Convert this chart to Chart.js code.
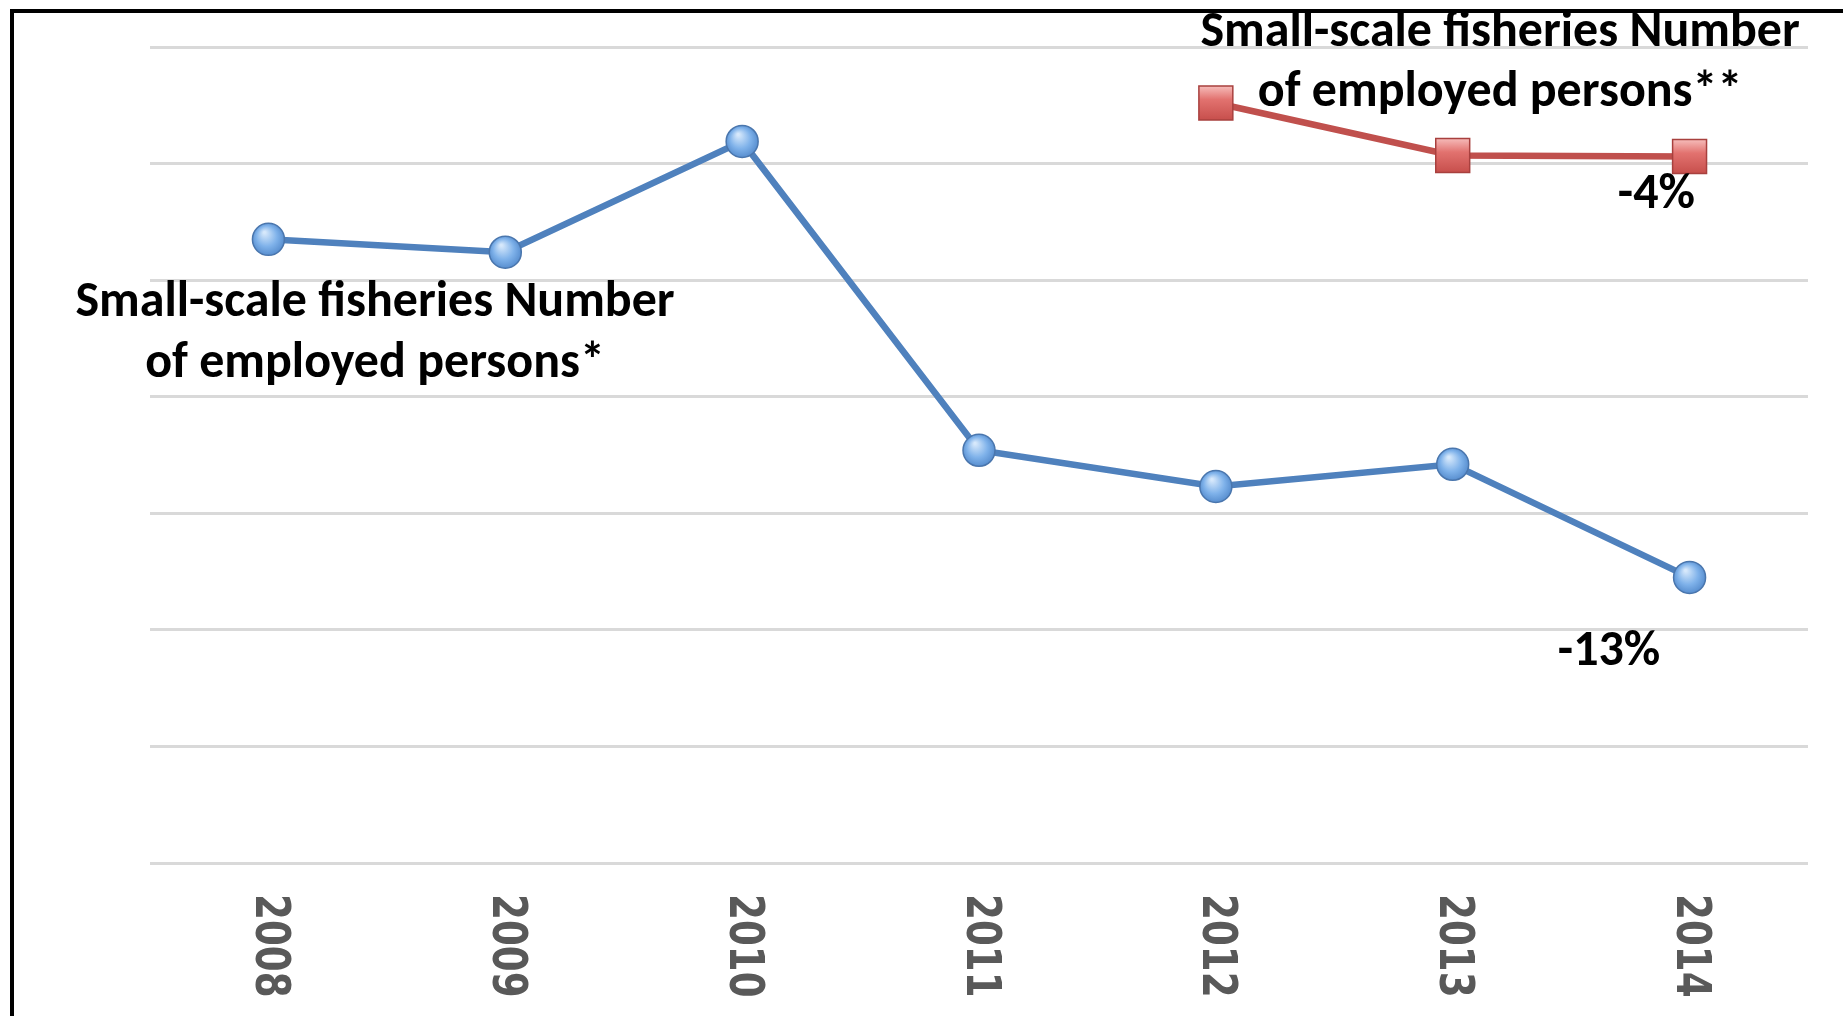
<!DOCTYPE html>
<html>
<head>
<meta charset="utf-8">
<script src="https://cdn.jsdelivr.net/npm/chart.js@4"></script>
<style>
  html, body { margin: 0; padding: 0; background: #fff; }
  canvas { display: block; }
</style>
</head>
<body>
<canvas id="fisheries-chart" width="1843" height="1016"></canvas>
<script>
const years = ["2008", "2009", "2010", "2011", "2012", "2013", "2014"];
// employed persons, small-scale fisheries (relative units)
const seriesOne = [5.35, 5.24, 6.19, 3.54, 3.23, 3.42, 2.45];
const seriesTwo = [null, null, null, null, 6.52, 6.07, 6.06];

const blueLine = "#4f81bd";
const redLine = "#c0504d";
const textFont = "Carlito, Lato, 'Open Sans', sans-serif";

const canvasElement = document.getElementById("fisheries-chart");

const ballFill = (light, mid, dark) => (ctx) => {
  const chart = ctx.chart;
  if (ctx.parsed == null || !chart.scales.x) return mid;
  const x = chart.scales.x.getPixelForValue(ctx.dataIndex);
  const y = chart.scales.y.getPixelForValue(ctx.parsed.y);
  if (!isFinite(x) || !isFinite(y)) return mid;
  const g = chart.ctx.createRadialGradient(x - 4, y - 7, 1, x, y, 18);
  g.addColorStop(0, light);
  g.addColorStop(0.55, mid);
  g.addColorStop(1, dark);
  return g;
};

const squareFill = (ctx) => {
  const chart = ctx.chart;
  if (ctx.parsed == null || !chart.scales.y) return "#e07a78";
  const y = chart.scales.y.getPixelForValue(ctx.parsed.y);
  if (!isFinite(y)) return "#e07a78";
  const g = chart.ctx.createLinearGradient(0, y - 17, 0, y + 17);
  g.addColorStop(0, "#f6bcba");
  g.addColorStop(0.4, "#e2726f");
  g.addColorStop(1, "#c74f4c");
  return g;
};

// frame lines (top and left, the rest is cropped in the source)
const framePlugin = {
  id: "frame",
  beforeDraw(chart) {
    const c = chart.ctx;
    c.save();
    c.fillStyle = "#fff";
    c.fillRect(0, 0, chart.width, chart.height);
    c.fillStyle = "#000";
    c.fillRect(10, 9, chart.width - 10, 4);
    c.fillRect(10, 9, 4, chart.height);
    c.restore();
  },
};

// x labels rotated clockwise, reading top to bottom
const yearLabels = {
  id: "yearLabels",
  afterDraw(chart) {
    const c = chart.ctx;
    const xs = chart.scales.x;
    const top = chart.chartArea.bottom + 31;
    c.save();
    c.fillStyle = "#595959";
    c.font = "bold 48px 'DejaVu Sans', Verdana, sans-serif";
    c.textAlign = "left";
    c.textBaseline = "middle";
    years.forEach((yr, i) => {
      const x = xs.getPixelForValue(i);
      c.save();
      c.translate(x, top);
      c.rotate(Math.PI / 2);
      c.scale(0.775, 1);
      c.fillText(yr, 0, 0);
      c.restore();
    });
    c.restore();
  },
};

// series names and change labels
const notes = [
  { text: "Small-scale fisheries Number", x: 0.45, y: 4.80 },
  { text: "of employed persons*", x: 0.45, y: 4.28 },
  { text: "Small-scale fisheries Number", x: 5.2, y: 7.12 },
  { text: "of employed persons**", x: 5.2, y: 6.6 },
  { text: "-4%", x: 5.86, y: 5.73 },
  { text: "-13%", x: 5.66, y: 1.81 },
];

const notesPlugin = {
  id: "notes",
  afterDatasetsDraw(chart) {
    const c = chart.ctx;
    const { x: xs, y: ys } = chart.scales;
    c.save();
    c.fillStyle = "#000";
    c.font = "bold 50px " + textFont;
    c.textAlign = "center";
    c.textBaseline = "middle";
    notes.forEach((n) => {
      c.fillText(n.text, xs.getPixelForValue(n.x), ys.getPixelForValue(n.y));
    });
    c.restore();
  },
};

const config = {
  type: "line",
  data: {
    labels: years,
    datasets: [
      {
        label: "Small-scale fisheries Number of employed persons*",
        data: seriesOne,
        borderColor: blueLine,
        borderWidth: 6.5,
        pointStyle: "circle",
        pointRadius: 16,
        pointBorderWidth: 1.5,
        pointBorderColor: "#4a76ad",
        pointBackgroundColor: ballFill("#d6e8fb", "#7fb2ea", "#4f86c9"),
        tension: 0,
      },
      {
        label: "Small-scale fisheries Number of employed persons**",
        data: seriesTwo,
        borderColor: redLine,
        borderWidth: 6.5,
        pointStyle: "rect",
        pointRadius: 24,
        pointBorderWidth: 1.5,
        pointBorderColor: "#a8403e",
        pointBackgroundColor: squareFill,
        tension: 0,
        spanGaps: false,
      },
    ],
  },
  options: {
    responsive: false,
    animation: false,
    layout: {
      padding: { left: 150, right: 35, top: 47, bottom: 145 },
    },
    plugins: {
      legend: { display: false },
      tooltip: { enabled: false },
    },
    scales: {
      x: {
        offset: true,
        grid: { display: false },
        border: { display: false },
        ticks: { display: false },
      },
      y: {
        min: 0,
        max: 7,
        ticks: { display: false, stepSize: 1 },
        grid: { color: "#d9d9d9", lineWidth: 3, drawTicks: false },
        border: { display: false },
      },
    },
  },
  plugins: [framePlugin, yearLabels, notesPlugin],
};

const fisheriesChart = new Chart(canvasElement, config);
</script>
</body>
</html>
